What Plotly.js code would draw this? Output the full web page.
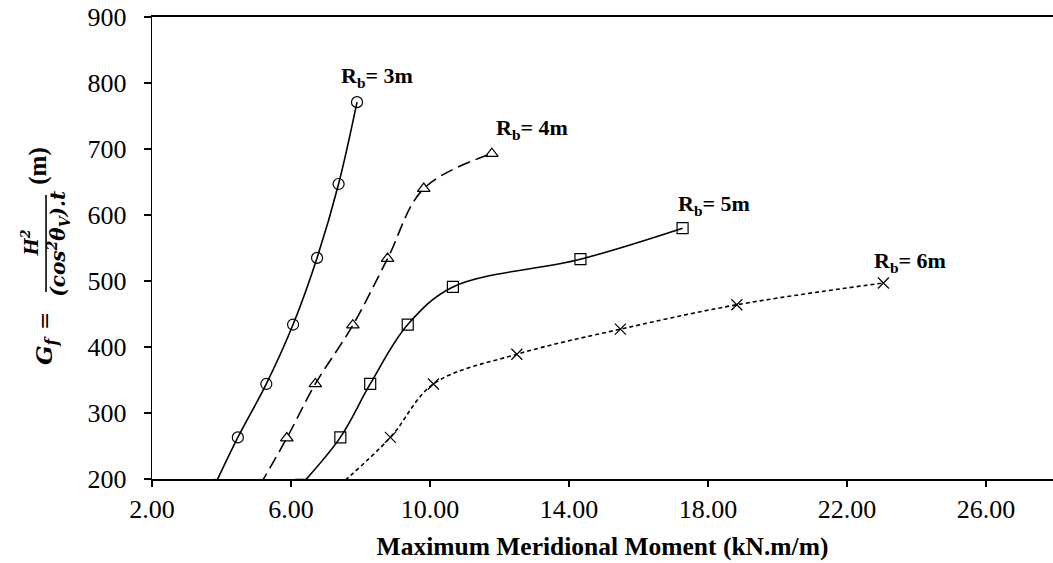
<!DOCTYPE html>
<html>
<head>
<meta charset="utf-8">
<script src="https://cdn.plot.ly/plotly-3.0.1.min.js"></script>
<style>
  html, body { margin: 0; padding: 0; background: #ffffff; }
  #chart { width: 1053px; height: 563px; }
</style>
</head>
<body>
<div id="chart"></div>
<script>
// Series data (first point of each series lies just below the visible y-range, as in the reference)
const rb3_x = [3.81, 4.47, 5.29, 6.06, 6.75, 7.37, 7.90];
const rb3_y = [191, 263, 344, 434, 535, 647, 771];

const rb4_x = [5.11, 5.88, 6.70, 7.78, 8.78, 9.82, 11.78];
const rb4_y = [191, 262, 344, 433, 534, 640, 693];

const rb5_x = [6.29, 7.42, 8.28, 9.36, 10.66, 14.33, 17.27];
const rb5_y = [191, 263, 344, 434, 491, 533, 580];

const rb6_x = [7.41, 8.86, 10.10, 12.50, 15.48, 18.83, 23.05];
const rb6_y = [191, 263, 344, 389, 427, 464, 497];

const seriesLabels = ["R<sub>b</sub>= 3m", "R<sub>b</sub>= 4m", "R<sub>b</sub>= 5m", "R<sub>b</sub>= 6m"];
const labelX = [8.48, 12.94, 18.18, 23.82];
const labelY = [809, 730, 615, 529];

const xTickVals = [2, 6, 10, 14, 18, 22, 26];
const xTickText = ["2.00", "6.00", "10.00", "14.00", "18.00", "22.00", "26.00"];
const yTickVals = [200, 300, 400, 500, 600, 700, 800, 900];

const FONT = "Liberation Serif, Times New Roman, serif";
const MATHFONT = "DejaVu Serif, serif";

function mk(x, y, symbol, dash) {
  return {
    x: x, y: y, type: "scatter", mode: "lines+markers",
    line: { color: "#000000", width: 1.6, shape: "spline", smoothing: 1, dash: dash },
    marker: { symbol: symbol, size: 11, color: "#000000", line: { color: "#000000", width: 1.2 } },
    cliponaxis: true, showlegend: false, hoverinfo: "x+y"
  };
}

const traces = [
  mk(rb3_x, rb3_y, "circle-open", "solid"),
  mk(rb4_x, rb4_y, "triangle-up-open", "13px,6px"),
  mk(rb5_x, rb5_y, "square-open", "solid"),
  mk(rb6_x, rb6_y, "x-thin-open", "4px,3px")
];

const annotations = seriesLabels.map((t, i) => ({
  x: labelX[i], y: labelY[i], xref: "x", yref: "y",
  text: "<b>" + t + "</b>", showarrow: false,
  xanchor: "center", yanchor: "middle",
  font: { family: FONT, size: 22, color: "#000000" }
}));

// Y-axis title built from pieces (rotated fraction); paper coords: x=(px-152)/901, y=(479-py)/462
const yt = [
  { text: "<b><i>G<sub>f</sub></i></b>", x: -0.1188, y: 0.279, size: 23, fam: MATHFONT },
  { text: "=", x: -0.1188, y: 0.342, size: 22, fam: MATHFONT },
  { text: "<b><i>H<sup>2</sup></i></b>", x: -0.1350, y: 0.511, size: 18, fam: MATHFONT },
  { text: "<b><i>(cos<sup>2</sup>θ<sub>V</sub>).t</i></b>", x: -0.1040, y: 0.510, size: 20, fam: MATHFONT },
  { text: "<b>(m)</b>", x: -0.1265, y: 0.676, size: 25, fam: FONT }
];
yt.forEach(p => annotations.push({
  x: p.x, y: p.y, xref: "paper", yref: "paper", text: p.text, showarrow: false,
  textangle: -90, xanchor: "center", yanchor: "middle",
  font: { family: p.fam, size: p.size, color: "#000000" }
}));

const layout = {
  width: 1053, height: 563,
  margin: { l: 152, r: 0, t: 17, b: 84, pad: 0 },
  paper_bgcolor: "#ffffff", plot_bgcolor: "#ffffff",
  font: { family: FONT, size: 26, color: "#000000" },
  xaxis: {
    range: [2, 27.93], tickmode: "array", tickvals: xTickVals, ticktext: xTickText,
    showgrid: false, zeroline: false,
    showline: true, linecolor: "#000000", linewidth: 1.6, mirror: true,
    ticks: "outside", ticklen: 6, tickwidth: 1.3, tickcolor: "#000000",
    tickfont: { family: FONT, size: 26, color: "#000000" },
    title: { text: "<b>Maximum Meridional Moment (kN.m/m)</b>", font: { family: FONT, size: 25.5, color: "#000000" }, standoff: 14 }
  },
  yaxis: {
    range: [200, 900], tickmode: "array", tickvals: yTickVals,
    showgrid: false, zeroline: false,
    showline: true, linecolor: "#000000", linewidth: 1.4,
    ticks: "outside", ticklen: 7, tickwidth: 1.3, tickcolor: "#000000",
    ticklabelstandoff: 12,
    tickfont: { family: FONT, size: 26, color: "#000000" }
  },
  shapes: [
    { type: "line", xref: "paper", yref: "paper", x0: -0.1176, x1: -0.1176, y0: 0.4048, y1: 0.6147,
      line: { color: "#000000", width: 1.6 } }
  ],
  annotations: annotations
};

Plotly.newPlot("chart", traces, layout, { displayModeBar: false, staticPlot: true });
</script>
</body>
</html>
